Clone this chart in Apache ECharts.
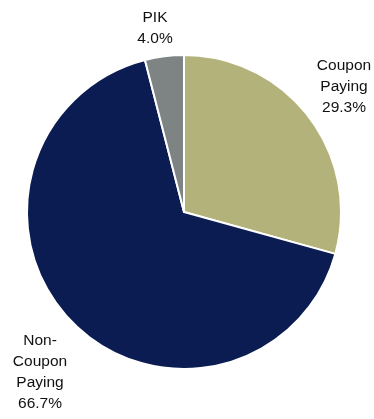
<!DOCTYPE html>
<html><head><meta charset="utf-8">
<script src="https://cdn.jsdelivr.net/npm/echarts@6/dist/echarts.min.js"></script>
<style>html,body{margin:0;padding:0;background:#fff}#c{width:374px;height:419px}</style>
</head><body><div id="c"></div>
<script>
const categories = ['Coupon\nPaying', 'Non-\nCoupon\nPaying', 'PIK'];
const values = [29.3, 66.7, 4.0];
const colors = ['#B3B27A', '#0A1C52', '#7D8483'];
const labelPos = [[344, 87], [40, 372], [155, 28]];

const chart = echarts.init(document.getElementById('c'), null, {renderer: 'canvas'});
chart.setOption({
  animation: false,
  series: [{
    type: 'pie',
    center: [184, 212],
    radius: [0, 157],
    startAngle: 90,
    clockwise: true,
    itemStyle: {borderColor: '#fff', borderWidth: 2},
    label: {
      show: true,
      position: 'inside',
      overflow: 'none',
      formatter: p => p.name + '\n' + p.value.toFixed(1) + '%',
      fontFamily: 'Liberation Sans, Arial, sans-serif',
      fontSize: 15.5,
      lineHeight: 21,
      color: '#111',
      align: 'center'
    },
    labelLine: {show: false},
    labelLayout: p => ({x: labelPos[p.dataIndex][0], y: labelPos[p.dataIndex][1], align: 'center', verticalAlign: 'middle'}),
    data: categories.map((c, i) => ({name: c, value: values[i], itemStyle: {color: colors[i]}}))
  }]
});
</script></body></html>
